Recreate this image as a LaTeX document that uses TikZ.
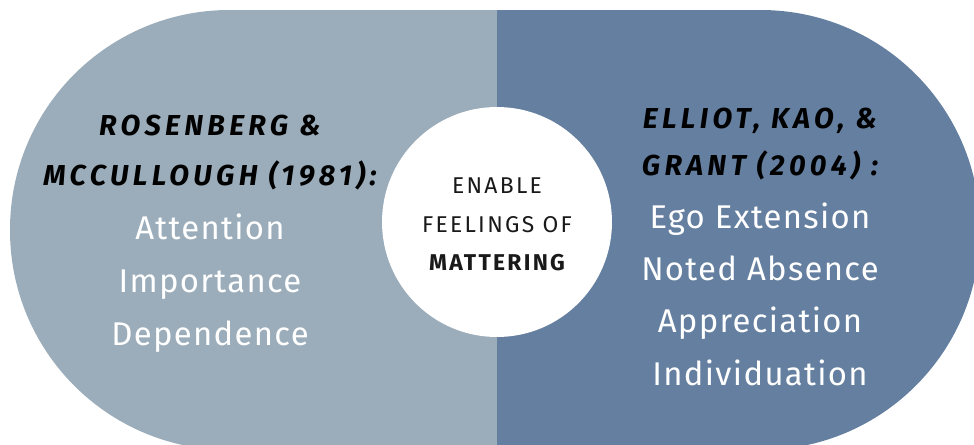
\documentclass[tikz,border=0pt]{standalone}
\usepackage{fontspec}
\setmainfont{Fira Sans}
\newfontfamily\lightfont[LetterSpace=4]{Fira Sans}
\newfontfamily\headfont[LetterSpace=15]{Fira Sans}
\newfontfamily\spacedfont[LetterSpace=10]{Fira Sans}

\definecolor{leftgrey}{HTML}{9BADBA}
\definecolor{rightblue}{HTML}{657FA0}

\tikzset{
  heading/.style={anchor=base, inner sep=0pt, text=black,
    font=\headfont\bfseries\itshape\fontsize{16.4}{18}\selectfont},
  item/.style={anchor=base, inner sep=0pt, text=white,
    font=\lightfont\fontsize{18.7}{20}\selectfont},
  hub/.style={circle, fill=white, minimum size=4.6cm, inner sep=0pt},
  hubtext/.style={anchor=base, inner sep=0pt, text=black!90,
    font=\spacedfont\fontsize{13}{15}\selectfont}
}

\begin{document}
\begin{tikzpicture}[x=0.02cm, y=-0.02cm]
    \useasboundingbox (0,0) rectangle (974,444);
    % two-tone pill, cut off at the page edges
    \begin{scope}
        \clip (0,0) rectangle (974,444);
        \clip[rounded corners=4.39cm] (10,10) rectangle (980,450);
        \fill[leftgrey] (0,0) rectangle (497,460);
        \fill[rightblue] (497,0) rectangle (990,460);
    \end{scope}
    \node[hub] (hub) at (497,222) {};
    \node[hubtext] (enable) at (497,193) {ENABLE};
    \node[hubtext] (feelings) at (497,232) {FEELINGS OF};
    \node[hubtext,font=\spacedfont\bfseries\fontsize{13}{15}\selectfont] (mattering) at (497,270) {MATTERING};
    % left column
    \node[heading] (rosenberg) at (210,135) {ROSENBERG \&};
    \node[heading] (mccullough) at (210,185) {MCCULLOUGH (1981):};
    \foreach \txt [count=\i] in {Attention,Importance,Dependence}
        \node[item] (left\i) at (210,{186+53*\i}) {\txt};
    % right column
    \node[heading] (elliot) at (760,128) {ELLIOT, KAO, \&};
    \node[heading] (grant) at (760,175) {GRANT (2004) :};
    \foreach \txt [count=\i] in {Ego Extension,Noted Absence,Appreciation,Individuation}
        \node[item] (right\i) at (760,{176+52.3*\i}) {\txt};
\end{tikzpicture}
\end{document}
